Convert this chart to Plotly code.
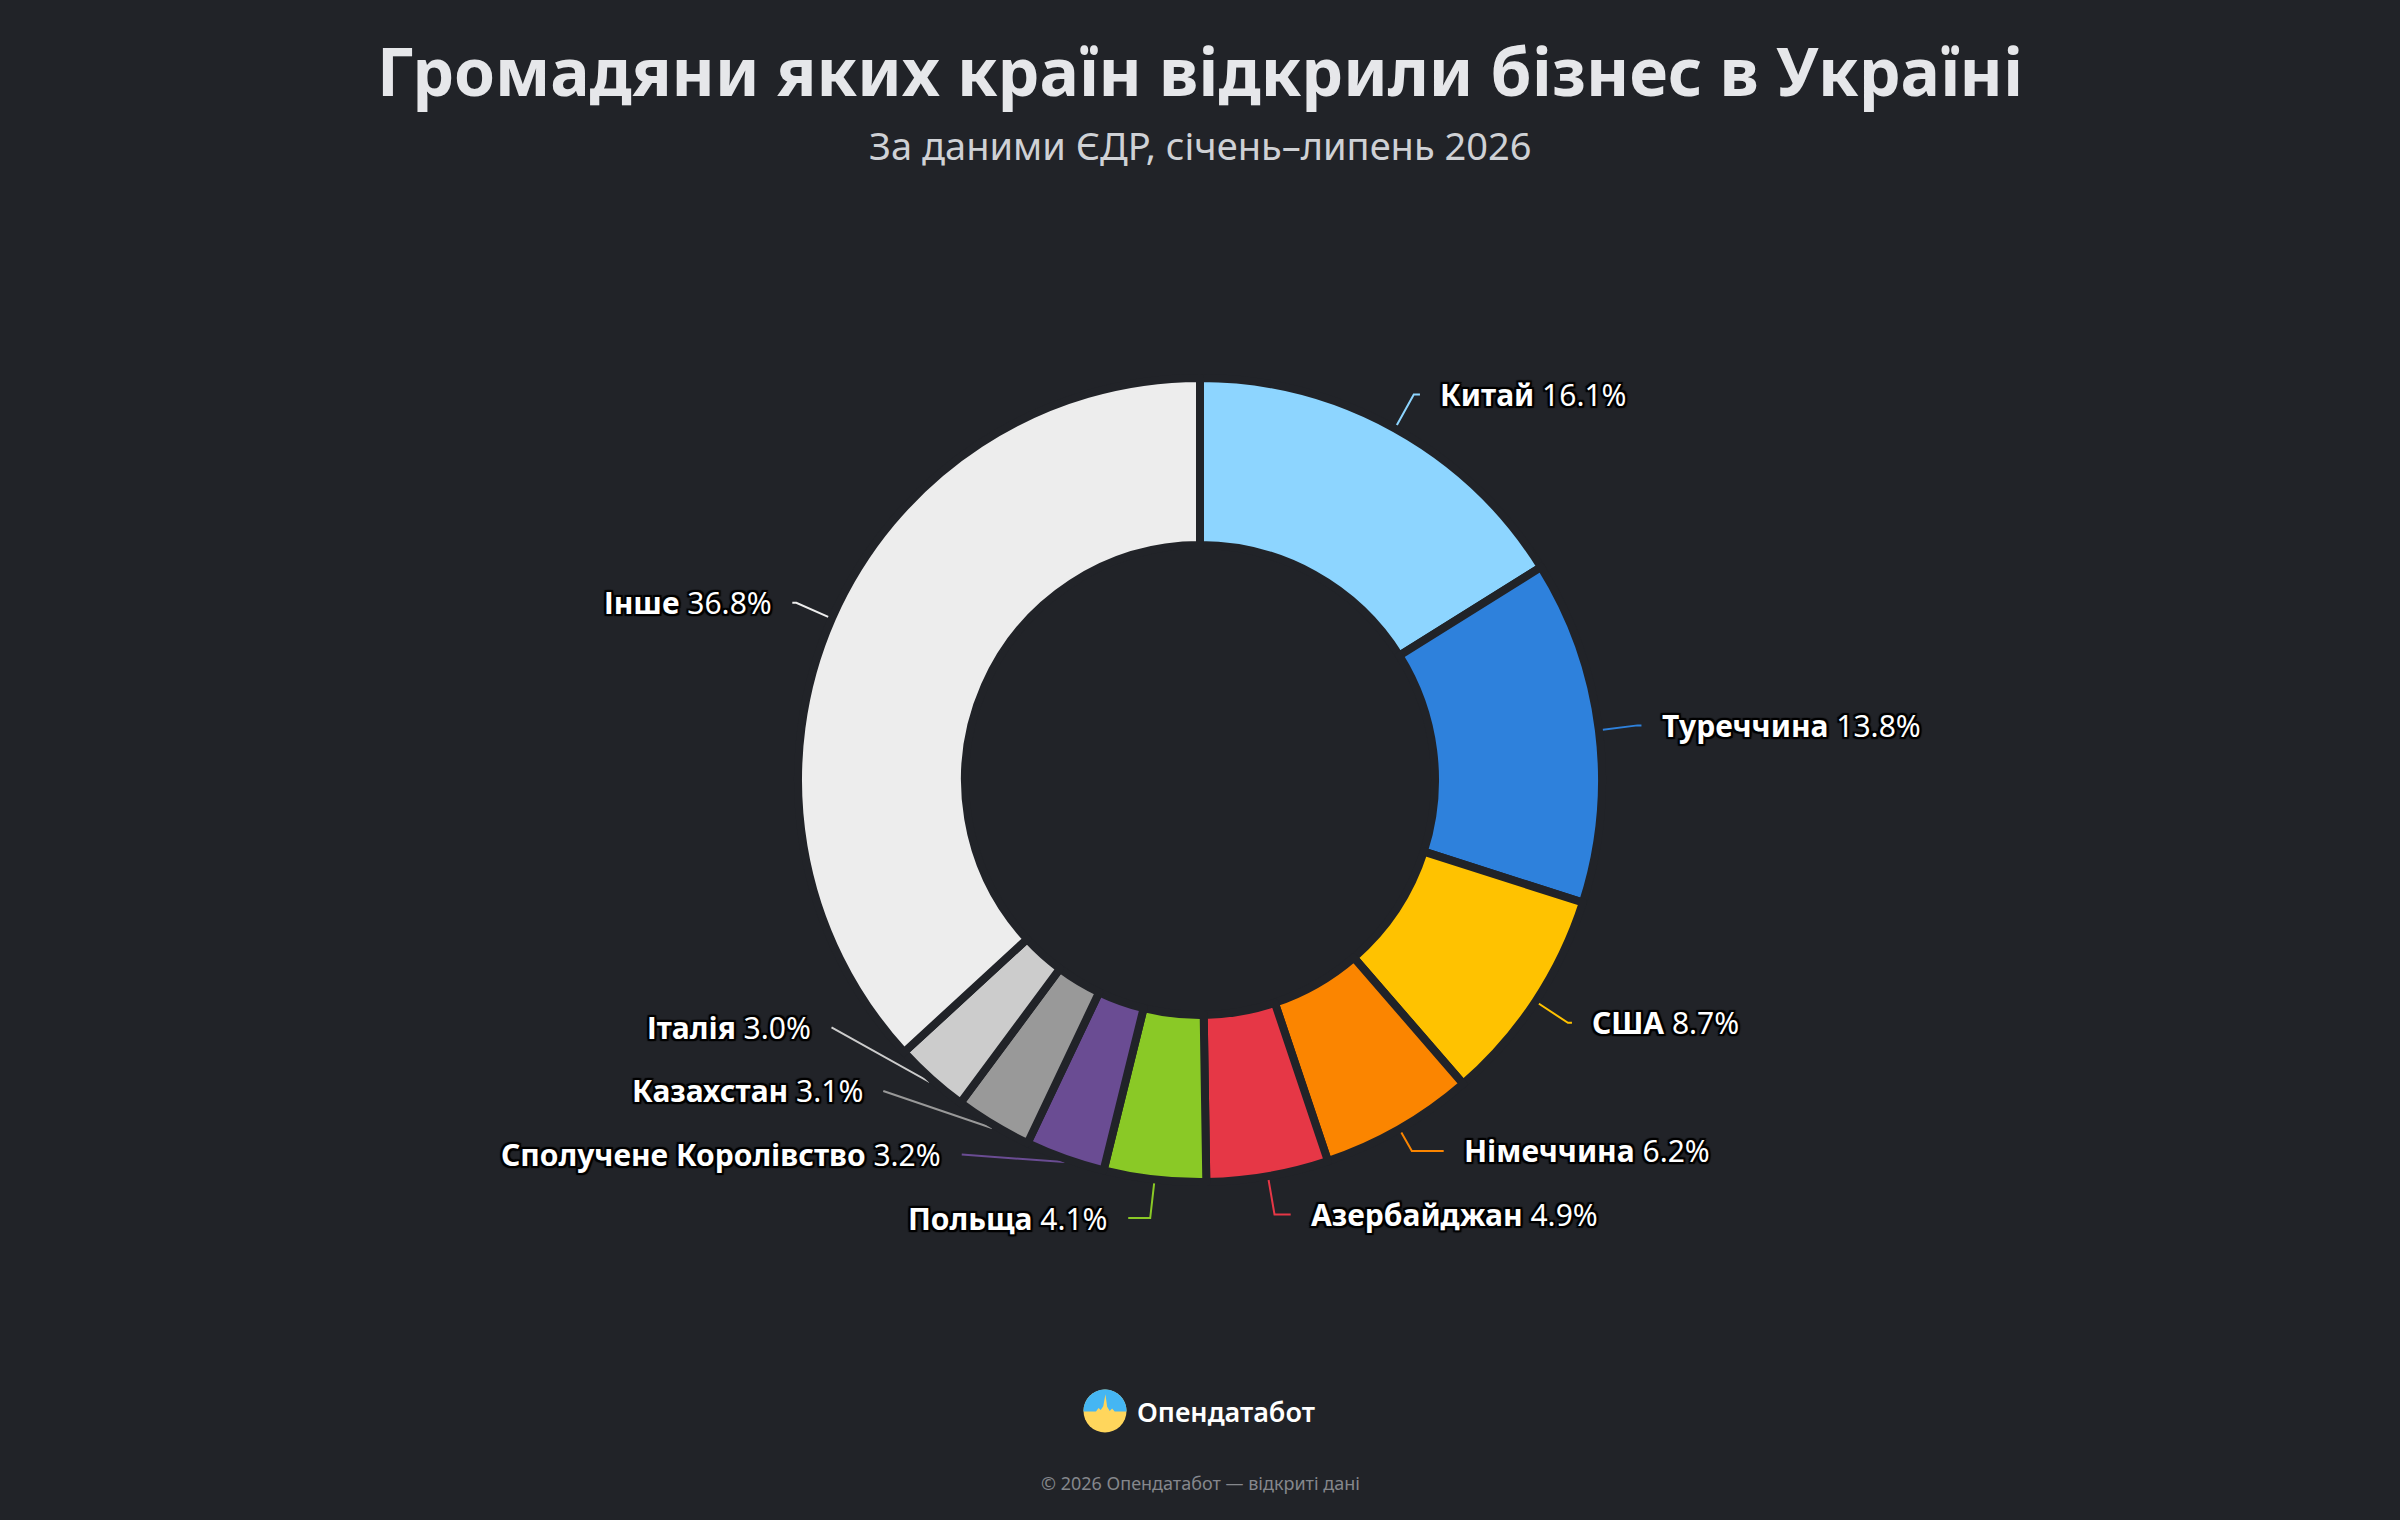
import math
import plotly.graph_objects as go

# ---------------- data ----------------
countries = ["Китай", "Туреччина", "США", "Німеччина", "Азербайджан",
             "Польща", "Сполучене Королівство", "Казахстан", "Італія", "Інше"]
shares = [16.1, 13.8, 8.7, 6.2, 4.9, 4.1, 3.2, 3.1, 3.0, 36.8]
colors = ["#8dd5ff", "#2e81dc", "#ffc200", "#fb8500", "#e63746",
          "#8ac926", "#6a4c93", "#999999", "#cccccc", "#ededed"]

title_text = "Громадяни яких країн відкрили бізнес в Україні"
subtitle_text = "За даними ЄДР, січень–липень 2026"
brand_text = "Опендатабот"
footer_text = "© 2026 Опендатабот — відкриті дані"

# ---------------- layout constants (pixels) ----------------
W, H = 2400, 1520
BG = "#212328"
CX, CY = 1200, 780
R_OUT = 398
R_IN = 239
GAP = 8
k = W / 1568.0
LEN1 = 28 * k
MINEXT = 5 * k
R2 = 290 * k
TGAP = 12 * k
SPACING = 41.5 * k
FONT = "Noto Sans"


def px(x):
    return x / W


def py(y):
    return 1 - y / H


# pie domain (outer edge compensated for the separating line)
r_dom = R_OUT + GAP / 2
hole = (R_IN - GAP / 2) / r_dom

fig = go.Figure()
fig.add_trace(go.Pie(
    labels=countries, values=shares, sort=False, direction="clockwise",
    rotation=0, hole=hole, textinfo="none", hoverinfo="label+percent",
    marker=dict(colors=colors, line=dict(color=BG, width=GAP)),
    domain=dict(x=[px(CX - r_dom), px(CX + r_dom)],
                y=[py(CY + r_dom), py(CY - r_dom)]),
    showlegend=False,
))

# ---------------- label layout ----------------
total = sum(shares)
items = []
cum = 0.0
for i, v in enumerate(shares):
    th = (cum + v / 2) / total * 2 * math.pi
    cum += v
    s, c = math.sin(th), math.cos(th)
    items.append(dict(i=i, s=s, c=c, right=(s >= 0),
                      y=CY - (R_OUT + LEN1) * c))

for side in (True, False):
    grp = sorted([it for it in items if it["right"] == side], key=lambda d: -d["y"])
    for a, b in zip(grp, grp[1:]):
        if a["y"] - b["y"] < SPACING:
            b["y"] = a["y"] - SPACING

shapes = []
annotations = []
OUTLINE = ("2px 2px 1px #000, -2px -2px 1px #000, 2px -2px 1px #000, -2px 2px 1px #000, "
           "0px 2px 1px #000, 0px -2px 1px #000, 2px 0px 1px #000, -2px 0px 1px #000")
for it in items:
    i, s, c, y = it["i"], it["s"], it["c"], it["y"]
    x0, y0 = CX + R_OUT * s, CY - R_OUT * c
    if abs(c) > 1e-6:
        d = (CY - y) / c
    else:
        d = R_OUT + LEN1
    d = min(max(d, R_OUT + MINEXT), R_OUT + LEN1)
    x1, y1 = CX + d * s, CY - d * c
    dy = y - CY
    dx = math.sqrt(max(R2 ** 2 - dy ** 2, 0))
    if it["right"]:
        x2 = max(CX + dx, x1 + 4)
        tx, anchor = x2 + TGAP, "left"
    else:
        x2 = min(CX - dx, x1 - 4)
        tx, anchor = x2 - TGAP, "right"
    path = f"M {px(x0)} {py(y0)} L {px(x1)} {py(y1)} L {px(x2)} {py(y)}"
    shapes.append(dict(type="path", xref="paper", yref="paper", path=path,
                       line=dict(color=colors[i], width=2), layer="below"))
    annotations.append(dict(
        x=px(tx), y=py(y), xref="paper", yref="paper", xanchor=anchor,
        yanchor="middle", showarrow=False,
        text=f"<b>{countries[i]}</b> {shares[i]:.1f}%",
        font=dict(family=FONT, size=30, color="#ffffff", shadow=OUTLINE),
    ))

# ---------------- titles & footer ----------------
annotations.append(dict(x=0.5, y=py(70), xref="paper", yref="paper", xanchor="center",
                        yanchor="middle", showarrow=False, text=f"<b>{title_text}</b>",
                        font=dict(family=FONT, size=66, color="#e6e7ea")))
annotations.append(dict(x=0.5, y=py(145), xref="paper", yref="paper", xanchor="center",
                        yanchor="middle", showarrow=False, text=subtitle_text,
                        font=dict(family=FONT, size=38, color="#cfd1d5")))
annotations.append(dict(x=px(1135), y=py(1411), xref="paper", yref="paper", xanchor="left",
                        yanchor="middle", showarrow=False, text=brand_text,
                        font=dict(family=FONT, size=27, color="#ffffff", weight=600)))
annotations.append(dict(x=0.5, y=py(1483), xref="paper", yref="paper", xanchor="center",
                        yanchor="middle", showarrow=False, text=footer_text,
                        font=dict(family=FONT, size=18, color="#85878c")))

# logo: yellow disc with blue top and a spike
LX, LY, LR = 1105, 1411, 21.5
shapes.append(dict(type="circle", xref="paper", yref="paper",
                   x0=px(LX - LR), x1=px(LX + LR), y0=py(LY + LR), y1=py(LY - LR),
                   fillcolor="#ffd65c", line=dict(width=0)))
pts = []
for j in range(0, 41):
    a = math.pi - math.pi * j / 40
    pts.append((LX + LR * math.cos(a), LY - LR * math.sin(a)))
prof = [(1.0, 0.02), (0.45, 0.02), (0.33, -0.12), (0.22, 0.0), (0.1, -0.2),
        (0.02, -0.78), (-0.08, -0.22), (-0.2, -0.05), (-0.3, -0.14), (-0.42, 0.02), (-1.0, 0.02)]
for fx, fy in prof:
    pts.append((LX + fx * LR, LY + fy * LR))
path = "M " + " L ".join(f"{px(x)} {py(y)}" for x, y in pts) + " Z"
shapes.append(dict(type="path", xref="paper", yref="paper", path=path,
                   fillcolor="#45b6f3", line=dict(width=0)))

fig.update_layout(
    width=W, height=H, paper_bgcolor=BG, plot_bgcolor=BG,
    margin=dict(l=0, r=0, t=0, b=0),
    shapes=shapes, annotations=annotations,
)

fig.write_html(
    "out.html", config={"displayModeBar": False},
    post_script=("document.body.style.margin='0';"
                 "document.body.style.background='" + BG + "';"
                 "document.documentElement.style.background='" + BG + "';"),
)
